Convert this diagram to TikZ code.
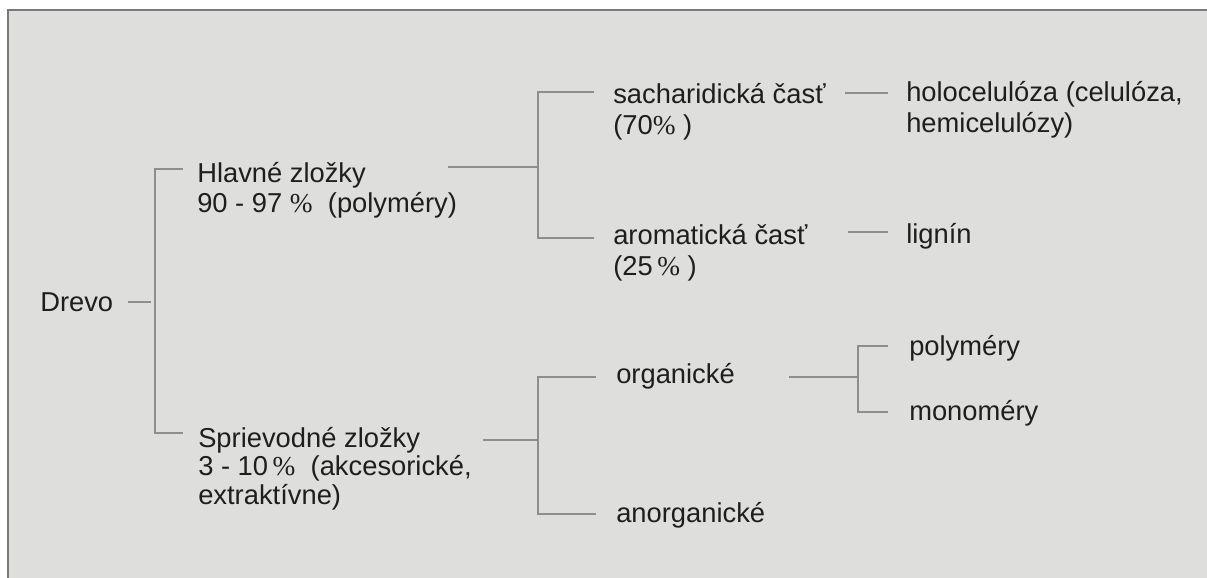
\documentclass[tikz,border=0pt]{standalone}
\usepackage{fontspec}
\setmainfont{Liberation Sans}
\newfontfamily\pctfont{Liberation Serif}
\newcommand\pc{{\pctfont\%}}
\definecolor{bgc}{HTML}{DEDEDD}
\definecolor{lnc}{HTML}{8E8E8E}
\definecolor{frc}{HTML}{7A7A7A}
\definecolor{txc}{HTML}{1E1E1E}
\begin{document}
\begin{tikzpicture}[x=0.75pt,y=-0.75pt,
  lbl/.style={anchor=base west, inner sep=0pt, align=left, text=txc, font=\fontsize{20.5}{22.5}\selectfont},
  lbltight/.style={lbl, font=\fontsize{20.5}{21.2}\selectfont},
  lblwide/.style={lbl, font=\fontsize{20.5}{23.2}\selectfont},
  conn/.style={draw=lnc, line width=1pt}]
\useasboundingbox (0,0) rectangle (1207,578);
\fill[white] (0,0) rectangle (1207,578);
\fill[bgc] (8,10) rectangle (1207,578);
\draw[frc, line width=1.2pt] (8,578) -- (8,10) -- (1207,10);

% nodes (multi-line nodes are placed by the baseline of their last line)
\node[lbl] (drevo) at (40,311) {Drevo};
\node[lbl] (hlavne) at (197,212) {Hlavné zložky\\90 - 97 \pc\ \ (polyméry)};
\node[lbltight] (spriev) at (198,504) {Sprievodné zložky\\3 - 10\,\pc\ \ (akcesorické,\\extraktívne)};
\node[lblwide] (sach) at (613,134) {sacharidická časť\\(70\pc\ )};
\node[lblwide] (arom) at (613,275) {aromatická časť\\(25\,\pc\ )};
\node[lblwide] (holo) at (906,132) {holocelulóza (celulóza,\\hemicelulózy)};
\node[lbl] (lignin) at (906,243) {lignín};
\node[lbl] (org) at (616,383) {organické};
\node[lbl] (anorg) at (616,522) {anorganické};
\node[lbl] (poly) at (909,355) {polyméry};
\node[lbl] (mono) at (909,420) {monoméry};

% connector coordinates
\coordinate (dA) at (128,302);
\coordinate (dB) at (151,302);
\coordinate (hT) at (183,169);
\coordinate (sB) at (183,433);
\coordinate (hA) at (448,167);
\coordinate (hB) at (538,167);
\coordinate (saT) at (594,92);
\coordinate (arB) at (594,238);
\coordinate (saA) at (845,93);
\coordinate (hoA) at (888,93);
\coordinate (arA) at (848,232);
\coordinate (liA) at (888,232);
\coordinate (spA) at (483,440);
\coordinate (spB) at (538,440);
\coordinate (orT) at (596,377);
\coordinate (anB) at (596,514);
\coordinate (orA) at (789,377);
\coordinate (orB) at (858,377);
\coordinate (poT) at (888,346);
\coordinate (moB) at (888,412);

\draw[conn] (dA) -- (dB);
\draw[conn] (hT) -- (155,169) -- (155,433) -- (sB);
\draw[conn] (hA) -- (hB);
\draw[conn] (saT) -- (538,92) -- (538,238) -- (arB);
\draw[conn] (saA) -- (hoA);
\draw[conn] (arA) -- (liA);
\draw[conn] (spA) -- (spB);
\draw[conn] (orT) -- (538,377) -- (538,514) -- (anB);
\draw[conn] (orA) -- (orB);
\draw[conn] (poT) -- (858,346) -- (858,412) -- (moB);
\end{tikzpicture}
\end{document}
